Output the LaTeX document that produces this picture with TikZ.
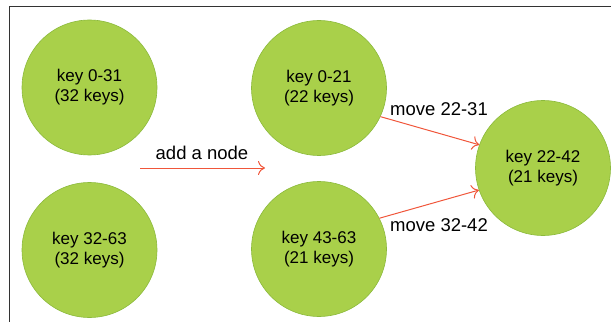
\documentclass[tikz,border=0pt]{standalone}
\usepackage{fontspec}
\setmainfont{Liberation Sans}
\usetikzlibrary{arrows.meta}
\definecolor{KeyClr}{RGB}{169,208,74}
\definecolor{KeyLineClr}{RGB}{140,186,60}
\definecolor{MoveClr}{RGB}{240,86,58}

\begin{document}
\begin{tikzpicture}[x=1pt,y=1pt,
  keynode/.style={circle,fill=KeyClr,draw=KeyLineClr,line width=0.6pt,minimum size=135pt,inner sep=0pt,
    align=center,font=\fontsize{17}{20}\selectfont},
  movearrow/.style={draw=MoveClr,line width=1pt,-{To[length=7pt,width=14pt]}},
  movelabel/.style={inner sep=0pt,font=\fontsize{18.5}{22}\selectfont}]
\useasboundingbox (0,0) rectangle (611,322);
\draw[line width=1pt,black!80] (611,315) -- (9,315) -- (9,0);

\node[keynode] (A) at (89.5,234.5) {key 0-31\\(32 keys)};
\node[keynode] (B) at (89.5,72) {key 32-63\\(32 keys)};
\node[keynode] (C) at (319,234) {key 0-21\\(22 keys)};
\node[keynode] (D) at (319,73) {key 43-63\\(21 keys)};
\node[keynode] (E) at (543,154) {key 22-42\\(21 keys)};

\coordinate (addL) at (140,154);
\coordinate (addR) at (265,154);
\draw[movearrow] (addL) -- (addR);
\node[movelabel] (addlbl) at (202,169) {add a node};

\draw[movearrow] (C.-25) -- (E.160);
\draw[movearrow] (D.27) -- (E.199);
\node[movelabel] (mvtop) at (439,213) {move 22-31};
\node[movelabel] (mvbot) at (439,97) {move 32-42};

\end{tikzpicture}
\end{document}
